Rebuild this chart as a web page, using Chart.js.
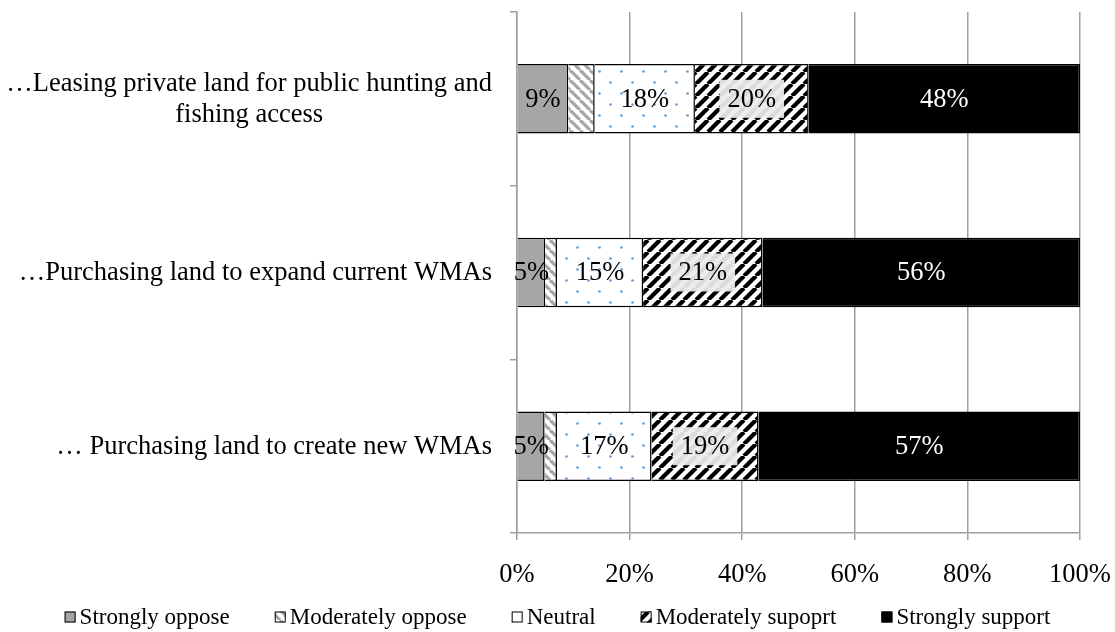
<!DOCTYPE html>
<html>
<head>
<meta charset="utf-8">
<script src="https://cdn.jsdelivr.net/npm/chart.js@4.4.1/dist/chart.umd.min.js"></script>
<style>
  html, body { margin: 0; padding: 0; background: #fff; }
  #wrap { width: 1115px; height: 632px; }
</style>
</head>
<body>
<div id="wrap"><canvas id="chart" width="1115" height="632"></canvas></div>
<script>
// categories (first one wraps on two lines)
const categories = [
  ['…Leasing private land for public hunting and', 'fishing access'],
  '…Purchasing land to expand current WMAs',
  '… Purchasing land to create new WMAs'
];
const seriesNames = ['Strongly oppose', 'Moderately oppose', 'Neutral', 'Moderately supoprt', 'Strongly support'];

// percentages per category
const stronglyOppose    = [9.1, 5.0, 4.9];
const moderatelyOppose  = [4.7, 2.1, 2.2];
const neutral           = [17.8, 15.3, 16.8];
const moderatelySupport = [20.2, 21.2, 19.0];
const stronglySupport   = [48.2, 56.4, 57.1];

const xTicks = [0, 20, 40, 60, 80, 100];

const FONT = '"Liberation Serif", "Times New Roman", serif';
const SIZE = 26.5;
Chart.defaults.font.family = FONT;
Chart.defaults.font.size = SIZE;
Chart.defaults.color = '#000';

let ctx = document.getElementById('chart').getContext('2d');

// fill patterns
function makePattern(w, h, draw) {
  let c = document.createElement('canvas');
  c.width = w; c.height = h;
  let g = c.getContext('2d');
  g.fillStyle = '#fff';
  g.fillRect(0, 0, w, h);
  draw(g, w, h);
  return ctx.createPattern(c, 'repeat');
}

let grayStripes = makePattern(10, 10, function (g, s) {
  g.strokeStyle = '#a6a6a6';
  g.lineWidth = 3.2;
  for (let k = -1; k <= 1; k++) {
    g.beginPath(); g.moveTo(k * s, 0); g.lineTo(k * s + s, s); g.stroke();
  }
});

let blueDots = makePattern(22, 22, function (g) {
  g.fillStyle = '#5b9bd5';
  [[5.5, 5.5], [16.5, 16.5]].forEach(function (p) {
    g.beginPath(); g.arc(p[0], p[1], 1.3, 0, Math.PI * 2); g.fill();
  });
});

let blackStripes = makePattern(12, 12, function (g, s) {
  g.strokeStyle = '#000';
  g.lineWidth = 4.2;
  for (let k = -1; k <= 1; k++) {
    g.beginPath(); g.moveTo(k * s, s); g.lineTo(k * s + s, 0); g.stroke();
  }
});

const fills = ['#a6a6a6', grayStripes, blueDots, blackStripes, '#000'];
const seriesData = [stronglyOppose, moderatelyOppose, neutral, moderatelySupport, stronglySupport];

// value labels inside the bars
const valueLabels = {
  id: 'valueLabels',
  afterDatasetsDraw(chart) {
    let c = chart.ctx;
    c.save();
    c.font = SIZE + 'px ' + FONT;
    c.textAlign = 'center';
    c.textBaseline = 'middle';
    chart.data.datasets.forEach(function (ds, di) {
      if (di === 1) return;
      chart.getDatasetMeta(di).data.forEach(function (bar, i) {
        let txt = Math.round(ds.data[i]) + '%';
        let p = bar.getProps(['x', 'y', 'base'], true);
        let cx = (p.x + p.base) / 2;
        if (di === 3) {
          let w = c.measureText(txt).width + 16;
          c.fillStyle = 'rgba(236,236,236,0.93)';
          c.fillRect(cx - w / 2, p.y - 19, w, 38);
        }
        c.fillStyle = di === 4 ? '#fff' : '#000';
        c.fillText(txt, cx, p.y + 1);
      });
    });
    c.restore();
  }
};

// category labels: right-aligned block, wrapped lines centred in it
const categoryLabels = {
  id: 'categoryLabels',
  afterDraw(chart) {
    let c = chart.ctx;
    let y = chart.scales.y;
    let right = 492;
    let lh = 31;
    c.save();
    c.font = SIZE + 'px ' + FONT;
    c.fillStyle = '#000';
    c.textAlign = 'center';
    c.textBaseline = 'middle';
    categories.forEach(function (lab, i) {
      let lines = Array.isArray(lab) ? lab : [lab];
      let widest = Math.max.apply(null, lines.map(function (l) { return c.measureText(l).width; }));
      let cx = right - widest / 2;
      let cy = y.getPixelForValue(i) + 1 - (lines.length - 1) * lh / 2;
      lines.forEach(function (l, j) { c.fillText(l, cx, cy + j * lh); });
    });
    c.restore();
  }
};

// legend at the bottom: small box, tight gap, wide spacing between items
const bottomLegend = {
  id: 'bottomLegend',
  afterDraw(chart) {
    let c = chart.ctx;
    let box = 11, gap = 4, spacing = 45, cy = 617;
    c.save();
    c.font = '23px ' + FONT;
    c.textBaseline = 'middle';
    c.textAlign = 'left';
    let widths = seriesNames.map(function (n) { return c.measureText(n).width; });
    let total = widths.reduce(function (a, b) { return a + b; }, 0) + seriesNames.length * (box + gap) + (seriesNames.length - 1) * spacing;
    let x = (chart.width - total) / 2;
    seriesNames.forEach(function (n, i) {
      c.fillStyle = fills[i];
      c.fillRect(x, cy - box / 2, box, box);
      c.strokeStyle = '#000';
      c.lineWidth = 1;
      c.strokeRect(x + 0.5, cy - box / 2 + 0.5, box - 1, box - 1);
      c.fillStyle = '#000';
      c.fillText(n, x + box + gap, cy + 1);
      x += box + gap + widths[i] + spacing;
    });
    c.restore();
  }
};

let chartData = {
  labels: categories,
  datasets: seriesNames.map(function (name, i) {
    return {
      label: name,
      data: seriesData[i],
      backgroundColor: fills[i],
      borderColor: '#000',
      borderWidth: 1.5,
      barPercentage: 0.4,
      categoryPercentage: 1.0
    };
  })
};

new Chart(ctx, {
  type: 'bar',
  data: chartData,
  plugins: [valueLabels, categoryLabels, bottomLegend],
  options: {
    indexAxis: 'y',
    responsive: false,
    animation: false,
    layout: { padding: { top: 12, right: 35, left: 0, bottom: 39 } },
    scales: {
      x: {
        stacked: true,
        min: 0,
        max: 100,
        afterBuildTicks: function (s) { s.ticks = xTicks.map(function (v) { return { value: v }; }); },
        afterFit: function (s) { s.height = 60; s.paddingLeft = 0; s.paddingRight = 0; },
        grid: { color: '#a0a0a0', lineWidth: 1.5, tickLength: 7 },
        border: { color: '#a0a0a0', width: 1.5 },
        ticks: { padding: 19, callback: function (v) { return v + '%'; } }
      },
      y: {
        stacked: true,
        afterFit: function (s) { s.width = 517; },
        grid: { drawOnChartArea: false, offset: true, color: '#a0a0a0', lineWidth: 1.5, tickLength: 7 },
        border: { color: '#a0a0a0', width: 1.5 },
        ticks: { display: false }
      }
    },
    plugins: {
      tooltip: { enabled: false },
      legend: { display: false }
    }
  }
});
</script>
</body>
</html>
